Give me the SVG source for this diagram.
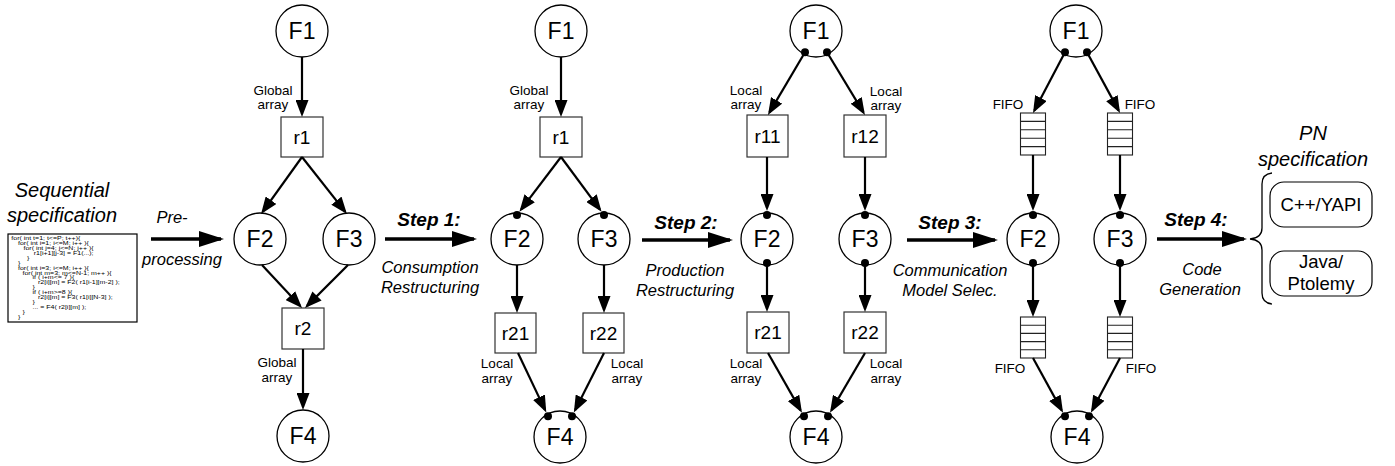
<svg xmlns="http://www.w3.org/2000/svg" width="1395" height="466" viewBox="0 0 1395 466">
  <style>
    text { font-family: "Liberation Sans", Arial, sans-serif; fill: #000; }
    .node { fill: #fff; stroke: #000; stroke-width: 1.3; }
    .box { fill: #fff; stroke: #333; stroke-width: 1.2; }
    .fifo { fill: #fff; stroke: #222; stroke-width: 1.1; }
    .port { fill: #000; }
    .fl { font-size: 23px; text-anchor: middle; }
    .rl { font-size: 19px; text-anchor: middle; }
    .lbl { font-size: 13.5px; text-anchor: middle; }
    .edge { stroke: #000; stroke-width: 2.2; fill: none; marker-end: url(#head); }
    .step { stroke: #000; stroke-width: 3.6; fill: none; marker-end: url(#bighead); }
    .stepT { font-size: 19px; font-weight: bold; font-style: italic; text-anchor: middle; }
    .stepS { font-size: 16.5px; font-style: italic; text-anchor: middle; }
    .title { font-size: 20px; font-style: italic; text-anchor: middle; }
    .code { font-size: 5.6px; }
    .tgt { font-size: 18.5px; text-anchor: middle; }
  </style>
  <defs>
    <marker id="head" viewBox="0 0 17 13" markerWidth="17" markerHeight="13" refX="14" refY="6.5" orient="auto" markerUnits="userSpaceOnUse">
      <path d="M0,0 L17,6.5 L0,13 z" fill="#000"/>
    </marker>
    <marker id="bighead" viewBox="0 0 25 16" markerWidth="25" markerHeight="16" refX="22" refY="8" orient="auto" markerUnits="userSpaceOnUse">
      <path d="M0,0 L25,8 L0,16 z" fill="#000"/>
    </marker>
  </defs>

  <!-- sequential program -->
  <g id="sequential-spec">
    <text class="title" x="62" y="197">Sequential</text>
    <text class="title" x="62" y="222">specification</text>
    <rect x="8" y="234" width="129" height="88" fill="#fff" stroke="#000" stroke-width="1.2"/>
    <!-- listing is set in a narrow face stretched sideways to fit the box -->
    <g class="code" transform="translate(8,234) scale(1.25,1)">
      <text x="2.7" y="6.3">for( int t=1; t&lt;=P; t++){</text>
      <text x="8" y="11.2">for( int i=1; i&lt;=M; i++ ){</text>
      <text x="12.4" y="16.1">for( int j=4; j&lt;=N; j++ ){</text>
      <text x="20.6" y="21">r1[i+1][j-3] = F1(...);</text>
      <text x="15.2" y="25.9">}</text>
      <text x="8" y="30.8">}</text>
      <text x="8" y="35.7">for( int i=3; i&lt;=M; i++ ){</text>
      <text x="11.6" y="40.6">for( int m=3; m&lt;=N-1; m++ ){</text>
      <text x="19.6" y="45.5">if ( i+m&lt;= 7 ){</text>
      <text x="24" y="50.4">r2[i][m] = F2( r1[i-1][m-2] );</text>
      <text x="19.6" y="55.3">}</text>
      <text x="19.6" y="60.2">if ( i+m&gt;=8 ){</text>
      <text x="24" y="65.1">r2[i][m] = F3( r1[i][N-3] );</text>
      <text x="19.6" y="70">}</text>
      <text x="19.6" y="74.9">... = F4( r2[i][m] );</text>
      <text x="11.6" y="79.8">}</text>
      <text x="8" y="84.7">}</text>
    </g>
  </g>

  <!-- stage A: global arrays -->
  <g id="a-F1"><circle class="node" cx="302" cy="31" r="26"/><text class="fl" x="302" y="39">F1</text></g>
  <g id="a-r1"><rect class="box" x="281" y="117" width="42" height="40"/><text class="rl" x="302" y="144">r1</text></g>
  <g id="a-F2"><circle class="node" cx="260" cy="239" r="26"/><text class="fl" x="260" y="247">F2</text></g>
  <g id="a-F3"><circle class="node" cx="349" cy="239" r="26"/><text class="fl" x="349" y="247">F3</text></g>
  <g id="a-r2"><rect class="box" x="282" y="308" width="42" height="41"/><text class="rl" x="303" y="335">r2</text></g>
  <g id="a-F4"><circle class="node" cx="303" cy="436" r="26"/><text class="fl" x="303" y="444">F4</text></g>

  <!-- stage B: consumption restructured -->
  <g id="b-F1"><circle class="node" cx="561" cy="31" r="26"/><text class="fl" x="561" y="39">F1</text></g>
  <g id="b-r1"><rect class="box" x="540" y="117" width="42" height="40"/><text class="rl" x="561" y="144">r1</text></g>
  <g id="b-F2"><circle class="node" cx="517" cy="239" r="26"/><text class="fl" x="517" y="247">F2</text><circle class="port" cx="517" cy="215" r="4"/></g>
  <g id="b-F3"><circle class="node" cx="604" cy="239" r="26"/><text class="fl" x="604" y="247">F3</text><circle class="port" cx="604" cy="215" r="4"/></g>
  <g id="b-r21"><rect class="box" x="495" y="313" width="41" height="40"/><text class="rl" x="515.5" y="340">r21</text></g>
  <g id="b-r22"><rect class="box" x="583" y="313" width="41" height="40"/><text class="rl" x="603.5" y="340">r22</text></g>
  <g id="b-F4"><circle class="node" cx="560" cy="437" r="26"/><text class="fl" x="560" y="445">F4</text><circle class="port" cx="548" cy="416.2" r="4"/><circle class="port" cx="572" cy="416.2" r="4"/></g>

  <!-- stage C: production restructured -->
  <g id="c-F1"><circle class="node" cx="816" cy="31" r="26"/><text class="fl" x="816" y="39">F1</text><circle class="port" cx="805" cy="52.3" r="4"/><circle class="port" cx="827" cy="52.3" r="4"/></g>
  <g id="c-r11"><rect class="box" x="747" y="115" width="41" height="42"/><text class="rl" x="767.5" y="143">r11</text></g>
  <g id="c-r12"><rect class="box" x="844" y="115" width="42" height="42"/><text class="rl" x="865" y="143">r12</text></g>
  <g id="c-F2"><circle class="node" cx="767" cy="239" r="26"/><text class="fl" x="767" y="247">F2</text><circle class="port" cx="767" cy="215" r="4"/><circle class="port" cx="767" cy="263" r="4"/></g>
  <g id="c-F3"><circle class="node" cx="865" cy="239" r="26"/><text class="fl" x="865" y="247">F3</text><circle class="port" cx="865" cy="215" r="4"/><circle class="port" cx="865" cy="263" r="4"/></g>
  <g id="c-r21"><rect class="box" x="747" y="312" width="42" height="41"/><text class="rl" x="768" y="339">r21</text></g>
  <g id="c-r22"><rect class="box" x="844" y="312" width="42" height="41"/><text class="rl" x="865" y="339">r22</text></g>
  <g id="c-F4"><circle class="node" cx="816" cy="437" r="26"/><text class="fl" x="816" y="445">F4</text><circle class="port" cx="804" cy="416.2" r="4"/><circle class="port" cx="828" cy="416.2" r="4"/></g>

  <!-- stage D: FIFO communication -->
  <g id="d-F1"><circle class="node" cx="1076" cy="31" r="26"/><text class="fl" x="1076" y="39">F1</text><circle class="port" cx="1065" cy="52.3" r="4"/><circle class="port" cx="1087" cy="52.3" r="4"/></g>
  <g id="d-fifo1">
    <rect class="fifo" x="1020.5" y="113" width="25" height="42"/>
    <path d="M1020.5,121.4h25M1020.5,129.8h25M1020.5,138.2h25M1020.5,146.6h25" stroke="#222" stroke-width="1.1"/>
  </g>
  <g id="d-fifo2">
    <rect class="fifo" x="1107.5" y="113" width="25" height="42"/>
    <path d="M1107.5,121.4h25M1107.5,129.8h25M1107.5,138.2h25M1107.5,146.6h25" stroke="#222" stroke-width="1.1"/>
  </g>
  <g id="d-F2"><circle class="node" cx="1033" cy="239" r="26"/><text class="fl" x="1033" y="247">F2</text><circle class="port" cx="1033" cy="215" r="4"/><circle class="port" cx="1033" cy="263" r="4"/></g>
  <g id="d-F3"><circle class="node" cx="1120" cy="239" r="26"/><text class="fl" x="1120" y="247">F3</text><circle class="port" cx="1120" cy="215" r="4"/><circle class="port" cx="1120" cy="263" r="4"/></g>
  <g id="d-fifo3">
    <rect class="fifo" x="1020.5" y="317" width="25" height="41"/>
    <path d="M1020.5,325.2h25M1020.5,333.4h25M1020.5,341.6h25M1020.5,349.8h25" stroke="#222" stroke-width="1.1"/>
  </g>
  <g id="d-fifo4">
    <rect class="fifo" x="1107.5" y="317" width="25" height="41"/>
    <path d="M1107.5,325.2h25M1107.5,333.4h25M1107.5,341.6h25M1107.5,349.8h25" stroke="#222" stroke-width="1.1"/>
  </g>
  <g id="d-F4"><circle class="node" cx="1077" cy="437" r="26"/><text class="fl" x="1077" y="445">F4</text><circle class="port" cx="1065" cy="416.2" r="4"/><circle class="port" cx="1089" cy="416.2" r="4"/></g>

  <!-- generated code targets -->
  <g id="pn-spec">
    <text class="title" x="1313" y="140">PN</text>
    <text class="title" x="1313" y="166">specification</text>
    <path d="M1272,173 Q1262,174 1262,184 L1262,228 Q1262,238 1250,239 Q1262,240 1262,250 L1262,293 Q1262,303 1272,304" fill="none" stroke="#000" stroke-width="1.3"/>
  </g>
  <g id="yapi"><rect x="1270" y="182" width="102" height="45" rx="14" fill="#fff" stroke="#000" stroke-width="1.2"/><text class="tgt" x="1321" y="211">C++/YAPI</text></g>
  <g id="ptolemy"><rect x="1270" y="251" width="102" height="45" rx="14" fill="#fff" stroke="#000" stroke-width="1.2"/><text class="tgt" x="1321" y="268">Java/</text><text class="tgt" x="1321" y="290">Ptolemy</text></g>

  <!-- connectors -->
  <g id="connectors">
    <line class="edge" x1="302" y1="57" x2="302" y2="114"/>
    <line class="edge" x1="302" y1="157" x2="262.8" y2="211.6"/>
    <line class="edge" x1="302" y1="157" x2="345.1" y2="211.6"/>
    <line class="edge" x1="262" y1="265" x2="300" y2="305.8"/>
    <line class="edge" x1="348" y1="265" x2="307.1" y2="305.9"/>
    <line class="edge" x1="303" y1="349" x2="303" y2="407"/>

    <line class="edge" x1="561" y1="57" x2="561" y2="114"/>
    <line class="edge" x1="561" y1="157" x2="521.2" y2="209.4"/>
    <line class="edge" x1="561" y1="157" x2="599.8" y2="209.4"/>
    <line class="edge" x1="517" y1="265" x2="517" y2="310"/>
    <line class="edge" x1="604" y1="265" x2="604" y2="310"/>
    <line class="edge" x1="518" y1="353" x2="545" y2="409.9"/>
    <line class="edge" x1="604" y1="353" x2="575.2" y2="409.9"/>

    <line class="edge" x1="805" y1="52.3" x2="769.5" y2="112.4"/>
    <line class="edge" x1="827" y1="52.3" x2="863.4" y2="112.4"/>
    <line class="edge" x1="767" y1="157" x2="767" y2="208"/>
    <line class="edge" x1="865" y1="157" x2="865" y2="208"/>
    <line class="edge" x1="767" y1="263" x2="767" y2="309"/>
    <line class="edge" x1="865" y1="263" x2="865" y2="309"/>
    <line class="edge" x1="768" y1="353" x2="800.5" y2="410.1"/>
    <line class="edge" x1="865" y1="353" x2="831.5" y2="410.1"/>

    <line class="edge" x1="1065" y1="52.3" x2="1034.4" y2="110.4"/>
    <line class="edge" x1="1087" y1="52.3" x2="1118.6" y2="110.4"/>
    <line class="edge" x1="1033" y1="155" x2="1033" y2="208"/>
    <line class="edge" x1="1120" y1="155" x2="1120" y2="208"/>
    <line class="edge" x1="1033" y1="263" x2="1033" y2="314"/>
    <line class="edge" x1="1120" y1="263" x2="1120" y2="314"/>
    <line class="edge" x1="1033" y1="358" x2="1061.6" y2="410.1"/>
    <line class="edge" x1="1120" y1="358" x2="1092.3" y2="410.1"/>

    <!-- transformation steps -->
    <line class="step" x1="151" y1="239" x2="221" y2="239"/>
    <line class="step" x1="385" y1="239" x2="474" y2="239"/>
    <line class="step" x1="642" y1="240" x2="730" y2="240"/>
    <line class="step" x1="907" y1="240" x2="995" y2="240"/>
    <line class="step" x1="1157" y1="239" x2="1244" y2="239"/>
  </g>

  <!-- edge labels -->
  <g id="edge-labels">
    <text class="lbl" x="273" y="95">Global</text><text class="lbl" x="273" y="109">array</text>
    <text class="lbl" x="277" y="367">Global</text><text class="lbl" x="277" y="382">array</text>
    <text class="lbl" x="529" y="95">Global</text><text class="lbl" x="529" y="109">array</text>
    <text class="lbl" x="497" y="368">Local</text><text class="lbl" x="497" y="383">array</text>
    <text class="lbl" x="627" y="368">Local</text><text class="lbl" x="627" y="383">array</text>
    <text class="lbl" x="746" y="95">Local</text><text class="lbl" x="746" y="109">array</text>
    <text class="lbl" x="886" y="96">Local</text><text class="lbl" x="886" y="110">array</text>
    <text class="lbl" x="746" y="368">Local</text><text class="lbl" x="746" y="383">array</text>
    <text class="lbl" x="886" y="368">Local</text><text class="lbl" x="886" y="383">array</text>
    <text class="lbl" x="1008" y="109">FIFO</text>
    <text class="lbl" x="1140" y="109">FIFO</text>
    <text class="lbl" x="1010" y="373">FIFO</text>
    <text class="lbl" x="1141" y="373">FIFO</text>
  </g>

  <!-- step labels -->
  <g id="step-labels">
    <text class="stepS" x="172" y="223">Pre-</text>
    <text class="stepS" x="182" y="265">processing</text>
    <text class="stepT" x="429" y="226">Step 1:</text>
    <text class="stepS" x="430" y="273">Consumption</text>
    <text class="stepS" x="430" y="293">Restructuring</text>
    <text class="stepT" x="686" y="229">Step 2:</text>
    <text class="stepS" x="685" y="276">Production</text>
    <text class="stepS" x="685" y="296">Restructuring</text>
    <text class="stepT" x="950" y="229">Step 3:</text>
    <text class="stepS" x="950" y="276">Communication</text>
    <text class="stepS" x="950" y="296">Model Selec.</text>
    <text class="stepT" x="1196" y="226">Step 4:</text>
    <text class="stepS" x="1202" y="275">Code</text>
    <text class="stepS" x="1200" y="295">Generation</text>
  </g>
</svg>
